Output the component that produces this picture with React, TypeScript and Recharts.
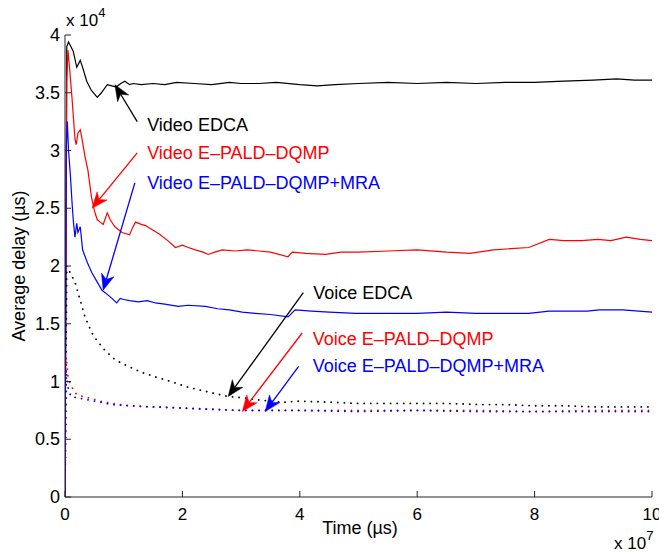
import React from 'react'
import { LineChart, Line, XAxis, YAxis, ReferenceLine, ReferenceDot } from 'recharts'

const FONT = '"Liberation Sans", Arial, Helvetica, sans-serif'
const AXIS = '#262626'

// time in units of 1e7 us, delay in units of 1e4 us
const xTicks = [0, 2, 4, 6, 8, 10]
const yTicks = [0, 0.5, 1, 1.5, 2, 2.5, 3, 3.5, 4]

const videoEdcaT = [0, 0.03, 0.06, 0.1, 0.14, 0.2, 0.26, 0.3, 0.37, 0.45, 0.55, 0.62, 0.72, 0.8, 0.87, 0.95, 1.02, 1.1, 1.16, 1.3, 1.5, 1.7, 1.9, 2.2, 2.5, 2.8, 3.0, 3.3, 3.6, 4.0, 4.3, 4.6, 5.0, 5.5, 6.0, 6.5, 7.0, 7.5, 8.0, 8.5, 9.0, 9.4, 9.7, 10]
const videoEdcaY = [0, 3.9, 3.94, 3.9, 3.86, 3.72, 3.78, 3.72, 3.6, 3.52, 3.46, 3.5, 3.57, 3.56, 3.55, 3.58, 3.6, 3.57, 3.58, 3.57, 3.58, 3.57, 3.59, 3.58, 3.57, 3.59, 3.58, 3.58, 3.59, 3.57, 3.56, 3.57, 3.58, 3.59, 3.58, 3.59, 3.58, 3.59, 3.59, 3.6, 3.61, 3.62, 3.61, 3.61]

const videoPaldT = [0, 0.03, 0.05, 0.08, 0.12, 0.17, 0.19, 0.22, 0.26, 0.29, 0.34, 0.39, 0.45, 0.5, 0.55, 0.6, 0.65, 0.72, 0.77, 0.85, 0.97, 1.1, 1.15, 1.2, 1.3, 1.37, 1.5, 1.6, 1.75, 1.88, 2.0, 2.1, 2.22, 2.35, 2.44, 2.55, 2.68, 2.9, 3.1, 3.3, 3.5, 3.8, 3.87, 4.1, 4.44, 4.7, 5.0, 5.5, 6.0, 6.5, 6.9, 7.3, 7.6, 7.9, 8.25, 8.5, 8.8, 9.08, 9.3, 9.56, 9.8, 10]
const videoPaldY = [0, 3.6, 3.87, 3.7, 3.45, 3.1, 3.05, 3.15, 3.18, 3.1, 2.95, 2.83, 2.6, 2.48, 2.4, 2.38, 2.36, 2.46, 2.4, 2.34, 2.29, 2.27, 2.33, 2.38, 2.36, 2.35, 2.31, 2.28, 2.22, 2.16, 2.18, 2.16, 2.14, 2.12, 2.1, 2.12, 2.14, 2.13, 2.14, 2.13, 2.12, 2.08, 2.12, 2.11, 2.1, 2.12, 2.12, 2.13, 2.14, 2.12, 2.11, 2.14, 2.15, 2.16, 2.23, 2.22, 2.22, 2.23, 2.22, 2.25, 2.23, 2.22]

const videoMraT = [0, 0.02, 0.04, 0.06, 0.09, 0.12, 0.14, 0.17, 0.2, 0.22, 0.26, 0.3, 0.38, 0.46, 0.55, 0.63, 0.73, 0.8, 0.88, 0.94, 1.0, 1.1, 1.25, 1.4, 1.54, 1.7, 1.93, 2.1, 2.39, 2.6, 2.8, 3.02, 3.24, 3.5, 3.8, 3.92, 4.2, 4.5, 4.95, 5.5, 6.0, 6.5, 7.0, 7.5, 7.9, 8.25, 8.6, 8.9, 9.1, 9.5, 10]
const videoMraY = [0, 3.0, 3.25, 3.0, 2.8, 2.55, 2.4, 2.25, 2.37, 2.29, 2.34, 2.14, 2.03, 1.94, 1.86, 1.79, 1.75, 1.72, 1.68, 1.72, 1.71, 1.7, 1.69, 1.7, 1.68, 1.67, 1.65, 1.66, 1.65, 1.63, 1.62, 1.6, 1.59, 1.58, 1.56, 1.62, 1.61, 1.6, 1.59, 1.59, 1.59, 1.6, 1.59, 1.59, 1.59, 1.61, 1.61, 1.61, 1.62, 1.62, 1.6]

const voiceEdcaT = [0, 0.03, 0.08, 0.17, 0.25, 0.34, 0.46, 0.55, 0.68, 0.85, 1.0, 1.3, 1.54, 1.8, 2.1, 2.44, 2.78, 3.0, 3.3, 3.72, 4.0, 4.57, 5.0, 5.72, 6.5, 7.08, 7.5, 8.0, 8.5, 9.0, 9.5, 10]
const voiceEdcaY = [0, 2.0, 1.95, 1.86, 1.72, 1.56, 1.42, 1.35, 1.27, 1.19, 1.15, 1.08, 1.04, 1.0, 0.95, 0.91, 0.87, 0.86, 0.84, 0.82, 0.83, 0.82, 0.81, 0.81, 0.81, 0.8, 0.8, 0.79, 0.79, 0.78, 0.78, 0.78]

const voicePaldT = [0, 0.02, 0.05, 0.08, 0.17, 0.3, 0.39, 0.6, 0.8, 1.1, 1.54, 2.0, 2.39, 3.0, 4.0, 5.0, 6.0, 7.0, 8.0, 9.0, 10]
const voicePaldY = [0, 1.21, 1.05, 0.99, 0.9, 0.87, 0.86, 0.83, 0.81, 0.79, 0.78, 0.77, 0.76, 0.75, 0.75, 0.75, 0.75, 0.75, 0.74, 0.75, 0.75]

const voiceMraT = [0, 0.02, 0.05, 0.1, 0.2, 0.4, 0.6, 0.8, 1.1, 1.5, 2.0, 2.5, 3.0, 4.0, 5.0, 6.0, 7.0, 8.0, 9.0, 10]
const voiceMraY = [0, 1.1, 0.95, 0.87, 0.86, 0.84, 0.82, 0.8, 0.79, 0.78, 0.77, 0.76, 0.75, 0.75, 0.74, 0.75, 0.74, 0.74, 0.74, 0.74]

// annotations: label text, colour, text anchor point, arrow tail, arrow tip
const annLabels = ['Video EDCA', 'Video E\u2013PALD\u2013DQMP', 'Video E\u2013PALD\u2013DQMP+MRA', 'Voice EDCA', 'Voice E\u2013PALD\u2013DQMP', 'Voice E\u2013PALD\u2013DQMP+MRA']
const annColors = ['#000000', '#ff0000', '#0000ff', '#000000', '#ff0000', '#0000ff']
const annText = [[1.4, 3.22], [1.4, 2.98], [1.4, 2.72], [4.23, 1.77], [4.22, 1.37], [4.22, 1.13]]
const annTail = [[1.23, 3.25], [1.23, 2.98], [1.19, 2.72], [4.06, 1.77], [4.04, 1.42], [3.98, 1.13]]
const annTip = [[0.85, 3.57], [0.46, 2.5], [0.65, 1.79], [2.78, 0.87], [3.02, 0.74], [3.41, 0.74]]

const toPoints = (t: number[], y: number[]) => t.map((v, i) => ({ t: v, y: y[i] }))

const DOTS = '0.1 6.5'

const series = [
  { key: 've', data: toPoints(videoEdcaT, videoEdcaY), color: '#000000', dash: undefined },
  { key: 'vp', data: toPoints(videoPaldT, videoPaldY), color: '#ff0000', dash: undefined },
  { key: 'vm', data: toPoints(videoMraT, videoMraY), color: '#0000ff', dash: undefined },
  { key: 'oe', data: toPoints(voiceEdcaT, voiceEdcaY), color: '#000000', dash: DOTS },
  { key: 'op', data: toPoints(voicePaldT, voicePaldY), color: '#ff0000', dash: DOTS },
  { key: 'om', data: toPoints(voiceMraT, voiceMraY), color: '#0000ff', dash: DOTS },
]

const TICK = 6

const BottomTick = (p: any) => (
  <g>
    <line x1={p.x} x2={p.x} y1={p.y} y2={p.y - TICK} stroke={AXIS} />
    <text x={p.x} y={p.y + 23} textAnchor="middle" fontSize={17} fontFamily={FONT} fill="#000">
      {p.payload.value}
    </text>
  </g>
)
const TopTick = (p: any) => <line x1={p.x} x2={p.x} y1={p.y} y2={p.y + TICK} stroke={AXIS} />
const LeftTick = (p: any) => (
  <g>
    <line x1={p.x} x2={p.x + TICK} y1={p.y} y2={p.y} stroke={AXIS} />
    <text x={p.x - 5} y={p.y + 6} textAnchor="end" fontSize={18} fontFamily={FONT} fill="#000">
      {p.payload.value}
    </text>
  </g>
)
const RightTick = (p: any) => <line x1={p.x} x2={p.x - TICK} y1={p.y} y2={p.y} stroke={AXIS} />

const arrowShape = (color: string) => (p: any) => {
  const { x1, y1, x2, y2 } = p
  const dx = x2 - x1
  const dy = y2 - y1
  const len = Math.hypot(dx, dy) || 1
  const ux = dx / len
  const uy = dy / len
  const nx = -uy
  const ny = ux
  const L = 16
  const W = 6.5
  const bx = x2 - ux * L
  const by = y2 - uy * L
  const mx = x2 - ux * L * 0.7
  const my = y2 - uy * L * 0.7
  const pts = `${x2},${y2} ${bx + nx * W},${by + ny * W} ${mx},${my} ${bx - nx * W},${by - ny * W}`
  return (
    <g>
      <line x1={x1} y1={y1} x2={mx} y2={my} stroke={color} strokeWidth={1.3} />
      <polygon points={pts} fill={color} stroke={color} strokeWidth={0.5} />
    </g>
  )
}

const labelShape = (text: string, color: string) => (p: any) => (
  <text x={p.cx} y={p.cy} dominantBaseline="central" fontSize={18} fontFamily={FONT} fill={color}>
    {text}
  </text>
)

const textStyle: React.CSSProperties = {
  position: 'absolute',
  fontFamily: FONT,
  fontSize: 18,
  lineHeight: 1,
  whiteSpace: 'nowrap',
  color: '#000',
}

export default function App() {
  return (
    <div style={{ position: 'absolute', left: 0, top: 0, width: 659, height: 552, background: '#fff' }}>
      <LineChart width={659} height={552} margin={{ top: 35, right: 7, bottom: 0, left: 0 }}>
        <XAxis
          xAxisId={0}
          dataKey="t"
          type="number"
          domain={[0, 10]}
          ticks={xTicks}
          interval={0}
          height={55}
          tickSize={0}
          tickMargin={0}
          tick={BottomTick}
          tickLine={false}
          stroke={AXIS}
          allowDataOverflow
        />
        <XAxis
          xAxisId="top"
          orientation="top"
          type="number"
          domain={[0, 10]}
          ticks={xTicks}
          interval={0}
          height={0}
          tickSize={0}
          tickMargin={0}
          tick={TopTick}
          tickLine={false}
          stroke={AXIS}
        />
        <YAxis
          yAxisId={0}
          type="number"
          domain={[0, 4]}
          ticks={yTicks}
          interval={0}
          width={65}
          tickSize={0}
          tickMargin={0}
          tick={LeftTick}
          tickLine={false}
          stroke={AXIS}
          allowDataOverflow
        />
        <YAxis
          yAxisId="right"
          orientation="right"
          type="number"
          domain={[0, 4]}
          ticks={yTicks}
          interval={0}
          width={0}
          tickSize={0}
          tickMargin={0}
          tick={RightTick}
          tickLine={false}
          stroke={AXIS}
        />
        {series.map((s) => (
          <Line
            key={s.key}
            data={s.data}
            dataKey="y"
            type="linear"
            stroke={s.color}
            strokeWidth={s.dash ? 1.8 : 1.2}
            strokeDasharray={s.dash}
            strokeLinecap="round"
            dot={false}
            activeDot={false}
            isAnimationActive={false}
          />
        ))}
        {annLabels.map((lab, i) => (
          <ReferenceLine
            key={'a' + i}
            segment={[
              { x: annTail[i][0], y: annTail[i][1] },
              { x: annTip[i][0], y: annTip[i][1] },
            ]}
            ifOverflow="visible"
            shape={arrowShape(annColors[i])}
          />
        ))}
        {annLabels.map((lab, i) => (
          <ReferenceDot
            key={'t' + i}
            x={annText[i][0]}
            y={annText[i][1]}
            r={0}
            ifOverflow="visible"
            shape={labelShape(lab, annColors[i])}
          />
        ))}
      </LineChart>
      <div style={{ ...textStyle, left: 19, top: 266, transform: 'translate(-50%, -50%) rotate(-90deg)' }}>
        Average delay (µs)
      </div>
      <div style={{ ...textStyle, left: 360, top: 519, transform: 'translateX(-50%)' }}>Time (µs)</div>
      <div style={{ ...textStyle, left: 66, top: 12, fontSize: 17 }}>
        x 10<span style={{ fontSize: 13, position: 'relative', top: -9 }}>4</span>
      </div>
      <div style={{ ...textStyle, left: 614, top: 535, fontSize: 17 }}>
        x 10<span style={{ fontSize: 13, position: 'relative', top: -9 }}>7</span>
      </div>
    </div>
  )
}
